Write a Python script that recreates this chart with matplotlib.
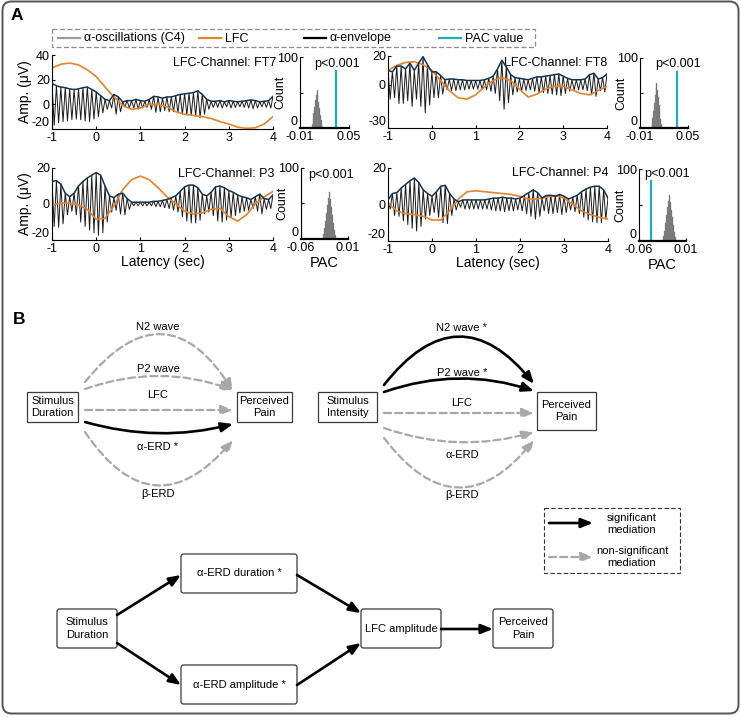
import numpy as np
import matplotlib
matplotlib.use("Agg")
import matplotlib.pyplot as plt
from matplotlib.patches import FancyArrowPatch, FancyBboxPatch, Rectangle

plt.rcParams.update({
    "font.family": ["Liberation Sans", "DejaVu Sans"],
    "axes.unicode_minus": False,
    "font.size": 9,
    "axes.linewidth": 0.8,
    "xtick.direction": "in", "ytick.direction": "in",
    "xtick.major.size": 2.5, "ytick.major.size": 2.5,
    "xtick.major.pad": 2.5, "ytick.major.pad": 1.5,
})

W, H = 741, 717

# ---------------------------------------------------------------------------
#  Panel A data
# ---------------------------------------------------------------------------
CHANNELS = ["FT7", "FT8", "P3", "P4"]
LAT_ENV = np.round(np.arange(-1.0, 4.05, 0.1), 2)   # alpha peaks, 100 ms apart
LAT_LFC = np.round(np.arange(-1.0, 4.05, 0.2), 2)

ENV_FT7 = [17, 15, 14, 13.5, 12.5, 12, 12.5, 13.5, 14, 12,
           10, 7, 4, 3, 8, 6, 2, 3, 3, 4,
           3, 2.5, 4, 6.5, 6, 5, 6, 6, 7, 8,
           8.5, 9, 9.5, 11, 8, 4, 2.5, 2.5, 3, 2,
           3, 2.5, 2, 2.5, 3, 3.5, 3, 2, 2.5, 3, 6.5]
LFC_FT7 = [29.5, 32.5, 33.5, 32, 28, 22.5, 14, 6, -1, -4, -3, 0, 0,
           -2, -6, -8, -9, -10, -11.5, -14, -16, -18.5, -19.5, -19, -16, -10]

ENV_FT8 = [10, 9, 13, 13, 11, 15, 10, 15, 19.5, 14,
           9, 9, 6.5, 3.5, 4, 4, 3.5, 3.5, 3, 3,
           3, 3, 3.5, 4.5, 6, 11, 17, 12.5, 7, 5,
           4.5, 4, 3.5, 4.5, 5.5, 5.5, 6, 6.5, 7, 7.5,
           6, 4.5, 3.5, 3.5, 3.5, 4, 7, 8, 4, 5, 7.5]
LFC_FT8 = [10, 13.5, 15.5, 16, 14, 10, 3, -4, -9, -10, -7, -1.5, 3,
           5, 3, -3, -8.5, -6.5, -3, -1, -1, -3.5, -6, -7, -4, -1]

ENV_P3 = [12.5, 13, 11, 6, 4, 6, 10, 12.5, 14.5, 16,
          17.5, 16, 10, 4.5, 3.5, 5.5, 6, 3, 1, 1,
          1, 1, 1, 1.5, 1.5, 2, 2.5, 3.5, 4.5, 7,
          9.5, 10.5, 10.5, 9, 5.5, 4.5, 6.5, 9.5, 10, 9,
          7.5, 6.5, 5, 4, 3.5, 2.5, 4, 5.5, 3, 2.5, 5]
LFC_P3 = [-0.5, 0.5, 0.5, -0.5, -3, -8.5, -8, -1, 8, 13.5, 15.5, 13.5, 9,
          4, 0, -4, -5.5, -5, -3, -2.5, -7, -9.5, -6, 0, 4, 7]

ENV_P4 = [2.5, 6, 6.5, 9, 11, 13, 14.5, 12, 8, 6,
          4.5, 7, 10, 10.5, 6, 3, 1.5, 2.5, 2.5, 2.5,
          2.5, 2.5, 2.5, 3, 3.5, 3.5, 4, 3.5, 3.5, 3,
          3.5, 5, 6.5, 8, 6.5, 3.5, 5, 5, 4.5, 5.5,
          4.5, 3, 4, 5, 7, 8.5, 9.5, 10, 10, 8, 3.5]
LFC_P4 = [0.5, -3.5, -5, -5.5, -6.5, -8.5, -8.5, -3.5, 3, 7, 7.5, 7, 6.5,
          6, 5.5, 4.5, 3, 3, 4, 5, 3.5, 0, -3.5, -5.5, -7, -8]

ENVS = [ENV_FT7, ENV_FT8, ENV_P3, ENV_P4]
LFCS = [LFC_FT7, LFC_FT8, LFC_P3, LFC_P4]
WAVE_YLIMS = [(-20, 40), (-30, 20), (-20, 20), (-20, 20)]
WAVE_YTICKS = [[-20, 0, 20, 40], [-30, 0, 20], [-20, 0, 20], [-20, 0, 20]]

# surrogate PAC distributions (bin centres / counts) and observed PAC values
BINS_FT7 = [0.004, 0.005, 0.006, 0.007, 0.008, 0.009, 0.010, 0.011, 0.012,
            0.013, 0.014, 0.015, 0.016, 0.017, 0.018]
COUNTS_FT7 = [2, 6, 13, 21, 30, 39, 47, 54, 46, 37, 28, 19, 11, 5, 2]
BINS_FT8 = [0.004, 0.005, 0.006, 0.007, 0.008, 0.009, 0.010, 0.011, 0.012,
            0.013, 0.014, 0.015, 0.016, 0.017, 0.018]
COUNTS_FT8 = [2, 7, 15, 25, 36, 47, 57, 65, 55, 44, 33, 22, 13, 6, 2]
BINS_P3 = [-0.0285, -0.027, -0.0255, -0.024, -0.0225, -0.021, -0.0195, -0.018,
           -0.0165, -0.015, -0.0135, -0.012, -0.0105, -0.009, -0.0075]
COUNTS_P3 = [2, 7, 15, 26, 37, 48, 58, 66, 56, 45, 34, 23, 13, 6, 2]
BINS_P4 = [-0.0245, -0.023, -0.0215, -0.020, -0.0185, -0.017, -0.0155, -0.014,
           -0.0125, -0.011, -0.0095, -0.008, -0.0065, -0.005, -0.0035]
COUNTS_P4 = [2, 7, 14, 25, 36, 47, 56, 64, 54, 43, 33, 22, 12, 6, 2]
BINS = [BINS_FT7, BINS_FT8, BINS_P3, BINS_P4]
COUNTS = [COUNTS_FT7, COUNTS_FT8, COUNTS_P3, COUNTS_P4]
BIN_WIDTH = [0.001, 0.001, 0.0015, 0.0015]
PAC_VALUE = [0.034, 0.036, -0.0595, -0.042]
PAC_LINE_TOP = [80, 80, 100, 83]
PAC_XLIMS = [(-0.01, 0.05), (-0.01, 0.05), (-0.06, 0.01), (-0.06, 0.01)]
P_TEXT = "p<0.001"

ORANGE = "#e5832b"
NAVY = "#12324f"
TEAL = "#1ab0b0"
GREY_ARROW = "#a8a8a8"

# ---------------------------------------------------------------------------
#  Panel B labels
# ---------------------------------------------------------------------------
MEDIATORS = ["N2 wave", "P2 wave", "LFC", "α-ERD", "β-ERD"]
SIG_DURATION = [False, False, False, True, False]
SIG_INTENSITY = [True, True, False, False, False]


def px_rect(x0, y0, x1, y1):
    return [x0 / W, 1 - y1 / H, (x1 - x0) / W, (y1 - y0) / H]


def clean(ax):
    for s in ("top", "right"):
        ax.spines[s].set_visible(False)


def draw_wave(ax, env, lfc, ylim, yticks):
    env = np.asarray(env, dtype=float)
    t_osc = np.empty(2 * len(env) - 1)
    v_osc = np.empty_like(t_osc)
    t_osc[0::2] = LAT_ENV
    t_osc[1::2] = LAT_ENV[:-1] + 0.05
    v_osc[0::2] = env
    v_osc[1::2] = -env[:-1]
    ax.plot(t_osc, v_osc, color="#1a1a1a", lw=0.7, zorder=1)
    ax.plot(LAT_LFC, lfc, color=ORANGE, lw=1.2, zorder=2)
    ax.plot(LAT_ENV, env, color=NAVY, lw=1.1, zorder=3)
    ax.set_xlim(-1, 4)
    ax.set_ylim(*ylim)
    ax.set_xticks([-1, 0, 1, 2, 3, 4])
    ax.set_yticks(yticks)
    ax.get_yticklabels()[0].set_va("bottom")   # keep clear of the "-1" label
    clean(ax)


def draw_hist(ax, i):
    ax.bar(BINS[i], COUNTS[i], width=BIN_WIDTH[i], color="#5a5a5a",
           edgecolor="#9a9a9a", linewidth=0.3)
    ax.plot([PAC_VALUE[i]] * 2, [0, PAC_LINE_TOP[i]], color=TEAL, lw=1.6)
    ax.set_xlim(*PAC_XLIMS[i])
    ax.set_ylim(0, 100)
    ax.set_xticks(PAC_XLIMS[i])
    ax.set_xticklabels([f"{v:.2f}" for v in PAC_XLIMS[i]])
    ax.set_yticks([0, 50, 100])
    ax.set_yticklabels(["0", "", "100"])
    ax.get_yticklabels()[0].set_va("bottom")
    ax.set_ylabel("Count")
    ax.yaxis.set_label_coords(-0.27, 0.5)
    ax.spines["bottom"].set_linewidth(1.6)
    clean(ax)


fig = plt.figure(figsize=(W / 100, H / 100), dpi=100)

# overlay for frame, legends and the path diagrams (pixel coordinates)
ov = fig.add_axes([0, 0, 1, 1])
ov.set_xlim(0, W)
ov.set_ylim(H, 0)
ov.axis("off")

ov.add_patch(FancyBboxPatch((2.5, 1.5), W - 5, H - 5,
                            boxstyle="round,pad=0,rounding_size=9",
                            ec="#555555", fc="none", lw=1.4))
ov.text(17, 16, "A", fontsize=12.5, fontweight="bold", ha="center", va="center")
ov.text(19, 319, "B", fontsize=12.5, fontweight="bold", ha="center", va="center")

# ---- panel A legend ----
ov.add_patch(Rectangle((52, 29), 483, 18, fc="none", ec="#8c8c8c",
                       lw=0.9, ls=(0, (4, 2))))
leg_items = [("α-oscillations (C4)", "#9a9a9a", 58),
             ("LFC", ORANGE, 199),
             ("α-envelope", "black", 304),
             ("PAC value", TEAL, 439)]
for label, col, x0 in leg_items:
    ov.plot([x0, x0 + 22], [38, 38], color=col, lw=1.6)
    ov.text(x0 + 26, 38.5, label, fontsize=9, va="center", ha="left")

# ---- panel A axes ----
wave_rects = [px_rect(52, 55, 273, 129), px_rect(388, 56, 607, 128),
              px_rect(52, 168, 273, 240), px_rect(388, 168, 608, 241)]
hist_rects = [px_rect(300, 57, 349, 128), px_rect(640, 58, 688, 128),
              px_rect(301, 168, 348, 239), px_rect(639, 169, 686, 241)]
chan_pos = [(276, 63), (607, 63), (274, 174), (609, 173)]
p_pos = [(337, 64), (678, 64), (331, 175), (667, 174)]

for i, ch in enumerate(CHANNELS):
    ax = fig.add_axes(wave_rects[i])
    ax.patch.set_alpha(0)
    draw_wave(ax, ENVS[i], LFCS[i], WAVE_YLIMS[i], WAVE_YTICKS[i])
    if i % 2 == 0:
        ax.set_ylabel("Amp. (μV)", fontsize=10)
        ax.yaxis.set_label_coords(-0.092, 0.5)
    if i >= 2:
        ax.set_xlabel("Latency (sec)", fontsize=10, labelpad=0)
    ov.text(*chan_pos[i], f"LFC-Channel: {ch}", ha="right", va="center", fontsize=9)

    hx = fig.add_axes(hist_rects[i])
    hx.patch.set_alpha(0)
    draw_hist(hx, i)
    if i >= 2:
        hx.set_xlabel("PAC", fontsize=10.5, labelpad=1)
    ov.text(*p_pos[i], P_TEXT, ha="center", va="center", fontsize=9)


# ---------------------------------------------------------------------------
#  Panel B: mediation diagrams
# ---------------------------------------------------------------------------
def box(x0, y0, x1, y1, text, rounded=False):
    if rounded:
        p = FancyBboxPatch((x0, y0), x1 - x0, y1 - y0,
                           boxstyle="round,pad=0,rounding_size=2.5",
                           ec="#3a3a3a", fc="white", lw=0.9)
    else:
        p = Rectangle((x0, y0), x1 - x0, y1 - y0, ec="#3a3a3a", fc="white", lw=0.9)
    ov.add_patch(p)
    ov.text((x0 + x1) / 2, (y0 + y1) / 2, text, ha="center", va="center",
            fontsize=8, linespacing=1.35)


def arrow(p0, p1, sig, rad=0.0):
    col = "black" if sig else GREY_ARROW
    ls = "-" if sig else (0, (3.2, 1.8))
    lw = 1.9 if sig else 1.6
    ov.add_patch(FancyArrowPatch(p0, p1, connectionstyle=f"arc3,rad={rad}",
                                 arrowstyle="-|>,head_length=7,head_width=2.8",
                                 color=col, lw=lw, ls=ls, shrinkA=0, shrinkB=0,
                                 mutation_scale=1, zorder=3))


# left: stimulus duration
box(27, 392, 78, 422, "Stimulus\nDuration")
box(237, 392, 292, 422, "Perceived\nPain")
left_paths = [((85, 382), (233, 391), -0.70), ((85, 389), (233, 390), -0.18),
              ((85, 410), (233, 410), 0.0), ((85, 422), (233, 424), 0.135),
              ((85, 432), (233, 440), 0.66)]
left_lab_y = [327, 369, 395, 447, 494]
for k, (a, b, r) in enumerate(left_paths):
    arrow(a, b, SIG_DURATION[k], r)
    lab = MEDIATORS[k] + (" *" if SIG_DURATION[k] else "")
    ov.text(158, left_lab_y[k], lab, ha="center", va="center", fontsize=8)

# right: stimulus intensity
box(318, 392, 377, 422, "Stimulus\nIntensity")
box(537, 392, 596, 430, "Perceived\nPain")
right_paths = [((384, 385), (534, 384), -0.63), ((384, 392), (534, 391), -0.17),
               ((384, 413), (534, 413), 0.0), ((384, 428), (534, 432), 0.16),
               ((384, 438), (534, 440), 0.64)]
right_lab_y = [328, 373, 403, 455, 495]
for k, (a, b, r) in enumerate(right_paths):
    arrow(a, b, SIG_INTENSITY[k], r)
    lab = MEDIATORS[k] + (" *" if SIG_INTENSITY[k] else "")
    ov.text(462, right_lab_y[k], lab, ha="center", va="center", fontsize=8)

# legend of panel B
ov.add_patch(Rectangle((544, 508), 136, 65, fc="none", ec="#333333",
                       lw=0.8, ls=(0, (4, 2))))
arrow((549, 523), (593, 523), True)
arrow((549, 557), (593, 557), False)
ov.text(632, 524, "significant\nmediation", ha="center", va="center",
        fontsize=8, linespacing=1.3)
ov.text(632, 557, "non-significant\nmediation", ha="center", va="center",
        fontsize=8, linespacing=1.3)

# serial mediation chain
box(57, 609, 117, 648, "Stimulus\nDuration", rounded=True)
box(181, 554, 297, 593, "α-ERD duration *", rounded=True)
box(181, 665, 297, 704, "α-ERD amplitude *", rounded=True)
box(361, 609, 441, 648, "LFC amplitude", rounded=True)
box(493, 609, 553, 648, "Perceived\nPain", rounded=True)
arrow((117, 615), (181, 575), True)
arrow((117, 643), (181, 685), True)
arrow((297, 575), (361, 613), True)
arrow((297, 685), (361, 643), True)
arrow((441, 629), (493, 629), True)

fig.savefig("out.png", dpi=100)
